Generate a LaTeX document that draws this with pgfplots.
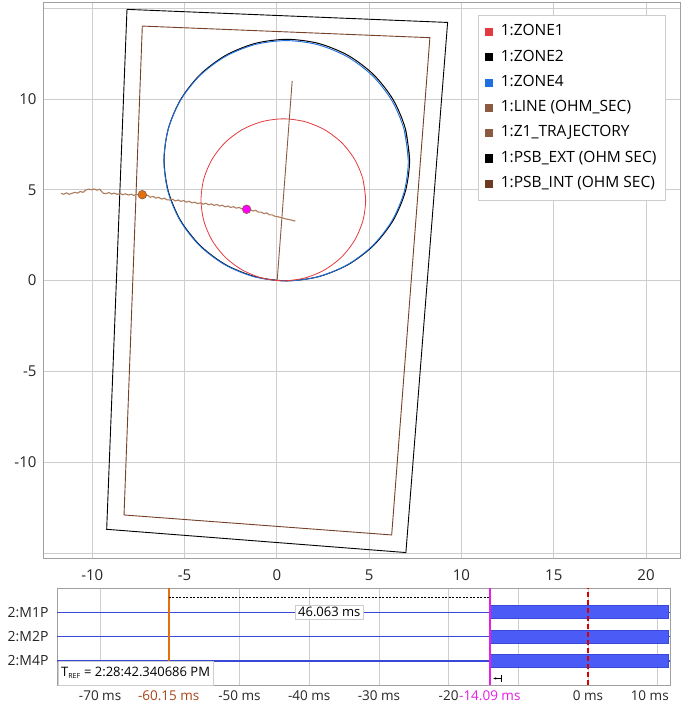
\documentclass[border=0pt]{standalone}
\usepackage{fontspec}
\setmainfont{Open Sans}
\usepackage{pgfplots}
\pgfplotsset{compat=1.18}
\usetikzlibrary{arrows.meta}
\definecolor{cZ1}{RGB}{226,58,62}
\definecolor{cZ4}{RGB}{31,111,224}
\definecolor{cLine}{RGB}{140,90,64}
\definecolor{cTraj}{RGB}{172,124,94}
\definecolor{cInt}{RGB}{110,59,32}
\definecolor{cGrid}{RGB}{205,205,205}
\definecolor{cAx}{RGB}{160,160,160}
\definecolor{cDig}{RGB}{58,72,216}
\definecolor{cBar}{RGB}{74,92,245}
\definecolor{cOrg}{RGB}{224,112,16}
\definecolor{cOrgTxt}{RGB}{168,70,26}
\definecolor{cMag}{RGB}{230,30,230}
\definecolor{cDot}{RGB}{255,0,255}

\begin{document}
\begin{tikzpicture}
\path[use as bounding box] (0,0) rectangle (681pt,708pt);

% ===== R-X plane =====
\begin{axis}[
  at={(43pt,150pt)}, anchor=south west, scale only axis,
  width=637pt, height=555.7pt,
  xmin=-12.67, xmax=21.84, ymin=-15.28, ymax=15.33,
  xtick={-10,-5,...,20}, ytick={-15,-10,...,15},
  yticklabels={,-10,-5,0,5,10,},
  grid=major, grid style={cGrid, line width=0.8pt},
  axis line style={cAx, line width=0.9pt},
  major tick length=0pt,
  /pgf/number format/assume math mode=true,
  tick label style={font=\fontsize{15}{18}\selectfont, text=black!85},
  yticklabel style={xshift=-3pt},
  xticklabel style={yshift=-8pt},
  clip=true,
  legend cell align=left,
  legend image code/.code={\fill[#1] (0pt,-3.6pt) rectangle (7.2pt,3.6pt);},
  legend style={at={(0.683,0.977)}, anchor=north west, draw=cGrid, fill=white,
    font=\fontsize{15.5}{18}\selectfont, inner xsep=7pt, inner ysep=8pt,
    row sep=8.3pt,
    /tikz/every odd column/.append style={column sep=6.5pt},
    nodes={inner sep=1.5pt, text height=11pt, text depth=3pt}},
]
% PSB_EXT outer quadrilateral
\addplot[black, line width=0.9pt, forget plot] coordinates {
  (-8.12,14.94) (9.25,14.22) (6.99,-14.98) (-9.22,-13.70) (-8.12,14.94)};
% PSB_INT inner quadrilateral
\addplot[cInt!80!cLine, line width=0.9pt, forget plot] coordinates {
  (-7.29,14.02) (8.29,13.38) (6.22,-14.01) (-8.28,-12.91) (-7.29,14.02)};
% ZONE2 circle
\addplot[black, line width=1.0pt, smooth, forget plot] coordinates {
  (7.19,6.64) (6.963,8.361) (6.299,9.965) (5.242,11.342) (3.865,12.399) (2.261,13.063)
  (0.54,13.29) (-1.181,13.063) (-2.785,12.399) (-4.162,11.342) (-5.219,9.965) (-5.883,8.361)
  (-6.11,6.64) (-5.883,4.919) (-5.219,3.315) (-4.162,1.938) (-2.785,0.881) (-1.181,0.217)
  (0.54,-0.01) (2.261,0.217) (3.865,0.881) (5.242,1.938) (6.299,3.315) (6.963,4.919)
  (7.19,6.64) (6.963,8.361)};
% ZONE4 circle
\addplot[cZ4, line width=0.9pt, smooth, forget plot] coordinates {
  (7.12,6.6) (6.894,8.313) (6.233,9.91) (5.181,11.281) (3.81,12.333) (2.213,12.994)
  (0.5,13.22) (-1.213,12.994) (-2.81,12.333) (-4.181,11.281) (-5.233,9.91) (-5.894,8.313)
  (-6.12,6.6) (-5.894,4.887) (-5.233,3.29) (-4.181,1.919) (-2.81,0.867) (-1.213,0.206)
  (0.5,-0.02) (2.213,0.206) (3.81,0.867) (5.181,1.919) (6.233,3.29) (6.894,4.887)
  (7.12,6.6) (6.894,8.313)};
% ZONE1 circle
\addplot[cZ1, line width=0.8pt, smooth, forget plot] coordinates {
  (4.81,4.45) (4.658,5.604) (4.212,6.68) (3.504,7.604) (2.58,8.312) (1.504,8.758)
  (0.35,8.91) (-0.804,8.758) (-1.88,8.312) (-2.804,7.604) (-3.512,6.68) (-3.958,5.604)
  (-4.11,4.45) (-3.958,3.296) (-3.512,2.22) (-2.804,1.296) (-1.88,0.588) (-0.804,0.142)
  (0.35,-0.01) (1.504,0.142) (2.58,0.588) (3.504,1.296) (4.212,2.22) (4.658,3.296)
  (4.81,4.45) (4.658,5.604)};
% LINE (OHM_SEC)
\addplot[cLine, line width=0.9pt, forget plot] coordinates {(0.02,0.05) (0.83,11.0)};
% Z1 trajectory
\addplot[cTraj, line width=1.1pt, forget plot] coordinates {
  (-11.70,4.80) (-11.55,4.76) (-11.40,4.83) (-11.25,4.75) (-11.10,4.81) (-10.95,4.86)
  (-10.80,4.82) (-10.65,4.91) (-10.50,4.86) (-10.35,4.99) (-10.20,5.04) (-10.05,5.00)
  (-9.90,5.05) (-9.75,4.98) (-9.60,5.03) (-9.50,4.91) (-9.40,4.81) (-9.25,4.79)
  (-9.10,4.85) (-8.95,4.77) (-8.80,4.82) (-8.65,4.75) (-8.50,4.80) (-8.35,4.73)
  (-8.20,4.78) (-8.05,4.71) (-7.90,4.76) (-7.75,4.69) (-7.60,4.75) (-7.45,4.70)
  (-7.30,4.73) (-7.15,4.65) (-7.00,4.70) (-6.85,4.59) (-6.70,4.64) (-6.55,4.54)
  (-6.40,4.59) (-6.25,4.49) (-6.10,4.54) (-5.95,4.45) (-5.80,4.44) (-5.65,4.48)
  (-5.50,4.39) (-5.35,4.44) (-5.20,4.36) (-5.05,4.41) (-4.90,4.32) (-4.75,4.37)
  (-4.60,4.28) (-4.45,4.32) (-4.30,4.24) (-4.15,4.28) (-4.00,4.21) (-3.85,4.26)
  (-3.70,4.18) (-3.55,4.22) (-3.40,4.14) (-3.25,4.19) (-3.10,4.11) (-2.95,4.15)
  (-2.80,4.06) (-2.65,4.11) (-2.50,4.03) (-2.35,4.07) (-2.20,3.99) (-2.05,4.03)
  (-1.90,3.95) (-1.75,3.98) (-1.60,3.92) (-1.45,3.91) (-1.30,3.83) (-1.15,3.87)
  (-1.00,3.77) (-0.85,3.77) (-0.70,3.69) (-0.55,3.73) (-0.40,3.62) (-0.25,3.62)
  (-0.10,3.54) (0.05,3.52) (0.20,3.48) (0.35,3.44) (0.50,3.39) (0.65,3.37)
  (0.80,3.33) (0.95,3.28) (1.00,3.31)};
% cursor points
\addplot[only marks, mark=*, mark size=4.3pt, forget plot,
  mark options={draw=cLine, fill=cOrg, line width=0.6pt}]
  coordinates {(-7.29,4.73)};
\addplot[only marks, mark=*, mark size=4.3pt, forget plot,
  mark options={draw=cLine, fill=cDot, line width=0.6pt}]
  coordinates {(-1.64,3.93)};
% y labels at the edges
\node[font=\fontsize{15}{18}\selectfont, text=black!85, anchor=east] at (rel axis cs:0,0.967) [xshift=-8pt] {15};
\node[font=\fontsize{15}{18}\selectfont, text=black!85, anchor=east] at (rel axis cs:0,0.0245) [xshift=-8pt] {-15};
% legend
\addlegendimage{cZ1}\addlegendentry{1:ZONE1}
\addlegendimage{black}\addlegendentry{1:ZONE2}
\addlegendimage{cZ4}\addlegendentry{1:ZONE4}
\addlegendimage{cLine}\addlegendentry{1:LINE (OHM\_SEC)}
\addlegendimage{cLine}\addlegendentry{1:Z1\_TRAJECTORY}
\addlegendimage{black}\addlegendentry{1:PSB\_EXT (OHM SEC)}
\addlegendimage{cInt}\addlegendentry{1:PSB\_INT (OHM SEC)}
\end{axis}

% ===== digital channels =====
\begin{axis}[
  at={(57pt,23pt)}, anchor=south west, scale only axis,
  width=613pt, height=97pt,
  xmin=-76.18, xmax=11.76, ymin=0, ymax=4,
  xtick={-70,-60,...,10},
  xticklabels={-70 ms,,-50 ms,-40 ms,-30 ms,-20,,0 ms,},
  ytick={1,2,3}, yticklabels={2:M4P,2:M2P,2:M1P},
  xmajorgrids, grid style={cGrid, line width=0.8pt},
  axis line style={cAx, line width=0.9pt},
  major tick length=0pt,
  xticklabel style={font=\fontsize{13.5}{16}\selectfont, text=black!85, yshift=-2pt},
  yticklabel style={font=\fontsize{14}{16}\selectfont, text=black!85, xshift=-5pt},
  clip=false,
]
\addplot[cDig, line width=1.5pt] coordinates {(-76.18,3) (11.76,3)};
\addplot[cDig, line width=1.5pt] coordinates {(-76.18,2) (11.76,2)};
\addplot[cDig, line width=1.5pt] coordinates {(-76.18,1) (11.76,1)};
\addplot[fill=cBar, draw=cDig, line width=0.6pt] coordinates {(-14.09,2.73) (11.45,2.73) (11.45,3.27) (-14.09,3.27)} --cycle;
\addplot[fill=cBar, draw=cDig, line width=0.6pt] coordinates {(-14.09,1.73) (11.45,1.73) (11.45,2.27) (-14.09,2.27)} --cycle;
\addplot[fill=cBar, draw=cDig, line width=0.6pt] coordinates {(-14.09,0.73) (11.45,0.73) (11.45,1.27) (-14.09,1.27)} --cycle;
% cursors
\addplot[cOrg, line width=2.2pt] coordinates {(-60.15,0) (-60.15,4)};
\addplot[cMag, line width=2.2pt] coordinates {(-14.09,0) (-14.09,4)};
\addplot[red!85!black, line width=1.2pt, dash pattern=on 5pt off 3pt] coordinates {(0,0) (0,4)};
\addplot[black, line width=0.5pt, dash pattern=on 2pt off 1.5pt] coordinates {(-60.15,3.63) (-14.09,3.63)};
\node[draw=cGrid, fill=white, font=\fontsize{13}{15}\selectfont, inner sep=2.5pt] at (axis cs:-37.12,3) {46.063 ms};
\node[draw=cGrid, fill=white, font=\fontsize{13}{15}\selectfont, anchor=south west,
  minimum height=24pt, inner xsep=3pt] at (rel axis cs:0,0) [xshift=1pt]
  {T\textsubscript{\fontsize{7}{8}\selectfont REF} = 2:28:42.340686 PM};
\draw[black, line width=0.8pt, {Stealth[length=3pt]}-|] (axis cs:-13.6,0.27) -- (axis cs:-12.4,0.27);
% cursor time labels and shifted end label
\node[text=cOrgTxt, font=\fontsize{13.5}{16}\selectfont, inner sep=1.5pt, anchor=north]
  at (axis cs:-60.15,0) [yshift=-4.5pt] {-60.15 ms};
\node[text=cMag, font=\fontsize{13.5}{16}\selectfont, inner sep=1.5pt, anchor=north]
  at (axis cs:-14.09,0) [yshift=-4.5pt] {-14.09 ms};
\node[text=black!85, font=\fontsize{13.5}{16}\selectfont, inner sep=1.5pt, anchor=north]
  at (axis cs:8.85,0) [yshift=-4.5pt] {10 ms};
\end{axis}
\end{tikzpicture}
\end{document}
